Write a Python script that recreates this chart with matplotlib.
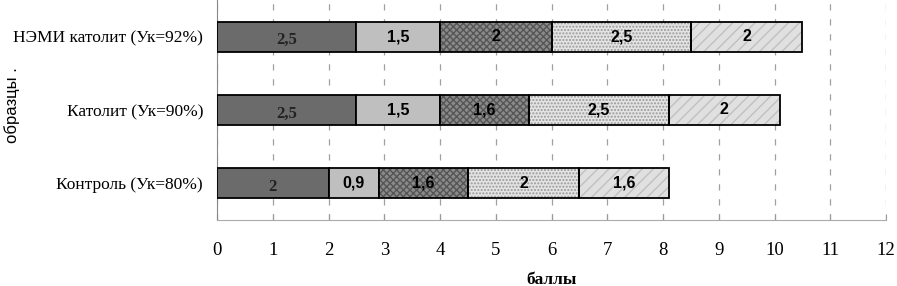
import matplotlib
matplotlib.use("Agg")
import matplotlib.pyplot as plt

# data
samples = ["Контроль (Ук=80%)", "Католит (Ук=90%)", "НЭМИ католит (Ук=92%)"]
seg1 = [2, 2.5, 2.5]
seg2 = [0.9, 1.5, 1.5]
seg3 = [1.6, 1.6, 2]
seg4 = [2, 2.5, 2.5]
seg5 = [1.6, 2, 2]
labels1 = ["2", "2,5", "2,5"]
labels2 = ["0,9", "1,5", "1,5"]
labels3 = ["1,6", "1,6", "2"]
labels4 = ["2", "2,5", "2,5"]
labels5 = ["1,6", "2", "2"]

segments = [seg1, seg2, seg3, seg4, seg5]
seg_labels = [labels1, labels2, labels3, labels4, labels5]
fills = ["#6b6b6b", "#bfbfbf", "#8a8a8a", "#e4e4e4", "#e0e0e0"]
hatches = [None, None, "xxxxx", ".....", "///"]
hatch_cols = [None, None, "#555555", "#999999", "#c0c0c0"]
text_cols = ["#222222", "black", "black", "black", "black"]

fig = plt.figure(figsize=(8.97, 2.86), dpi=100)
ax = fig.add_axes([217 / 897, 66 / 286, 669 / 897, 220 / 286])

y = list(range(len(samples)))
left = [0] * len(samples)
for i, seg in enumerate(segments):
    if hatches[i]:
        ax.barh(y, seg, left=left, height=0.41, color=fills[i],
                hatch=hatches[i], edgecolor=hatch_cols[i], linewidth=0, zorder=3)
        ax.barh(y, seg, left=left, height=0.41, fill=False,
                edgecolor="black", linewidth=1.3, zorder=4)
    else:
        ax.barh(y, seg, left=left, height=0.41, color=fills[i],
                edgecolor="black", linewidth=1.3, zorder=3)
    for k in range(len(samples)):
        cx = left[k] + seg[k] / 2
        if i == 0:
            ax.text(cx, y[k] - 0.05, seg_labels[i][k], ha="center", va="center",
                    fontsize=12, fontweight="bold", family="Liberation Serif",
                    color=text_cols[i], zorder=5)
        else:
            ax.text(cx, y[k], seg_labels[i][k], ha="center", va="center",
                    fontsize=11.5, fontweight="bold", family="Liberation Sans",
                    color=text_cols[i], zorder=5)
    left = [left[k] + seg[k] for k in range(len(samples))]

ax.set_xlim(0, 12)
ax.set_ylim(-0.5, 2.5)
ax.set_xticks(range(0, 13))
ax.set_xticklabels([str(v) for v in range(0, 13)], family="Liberation Serif", fontsize=13.5)
ax.set_yticks(y)
ax.set_yticklabels(samples, family="Liberation Serif", fontsize=12.5)
ax.tick_params(axis="y", length=0, pad=10)
ax.tick_params(axis="x", length=4, color="#999999", pad=16, direction="in")

ax.grid(axis="x", linestyle=(0, (5, 7)), color="#a0a0a0", linewidth=0.9, zorder=0)
for s in ["top", "right"]:
    ax.spines[s].set_visible(False)
ax.spines["left"].set_color("#888888")
ax.spines["bottom"].set_color("#aaaaaa")

ax.set_xlabel("баллы", family="Liberation Serif", fontweight="bold", fontsize=12.5, labelpad=9)
fig.text(12 / 897, 1 - 105 / 286, "образцы .", rotation=90, ha="center", va="center",
         family="Liberation Sans", fontsize=12)

fig.savefig("out.png", dpi=100)
